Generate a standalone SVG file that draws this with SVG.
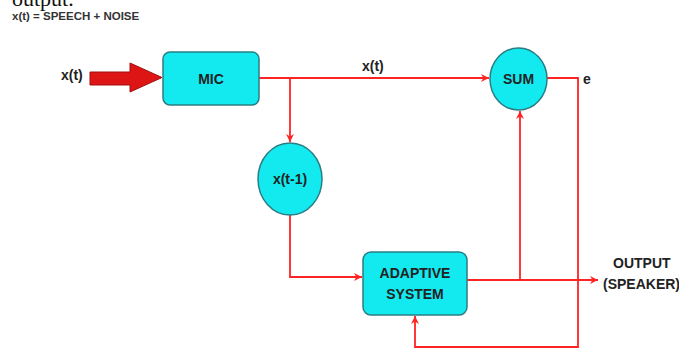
<svg xmlns="http://www.w3.org/2000/svg" width="679" height="349" viewBox="0 0 679 349">
<defs>
<style>
.lbl{font-family:"Liberation Sans",Arial,sans-serif;font-weight:bold;font-size:14px;fill:#222}
.node{fill:#12eaf0;stroke:#2a7d84;stroke-width:1.5}
.wire{fill:none;stroke:#ff2424;stroke-width:1.8}
</style>
<marker id="ah" viewBox="0 0 10 10" refX="10" refY="5" markerWidth="8" markerHeight="8" orient="auto" markerUnits="userSpaceOnUse">
<path d="M0,0 L10,5 L0,10 L3,5 Z" fill="#ff2424"/>
</marker>
</defs>
<rect width="679" height="349" fill="#fff"/>
<text x="12" y="6" font-family="Liberation Serif,serif" font-size="22" fill="#111">output.</text>
<text x="12" y="20" font-family="Liberation Sans,Arial,sans-serif" font-weight="bold" font-size="11.5" fill="#333">x(t) = SPEECH + NOISE</text>
<g id="connectors">
<path class="wire" d="M259,78 H489" marker-end="url(#ah)"/>
<path class="wire" d="M290,78 V142" marker-end="url(#ah)"/>
<path class="wire" d="M290,215 V277 H362" marker-end="url(#ah)"/>
<path class="wire" d="M467,280 H598" marker-end="url(#ah)"/>
<path class="wire" d="M520,280 V111" marker-end="url(#ah)"/>
<path class="wire" d="M547,78 H578 V347 H415 V316" marker-end="url(#ah)"/>
<path d="M90,72 H130 V63 L162,77.5 L130,92 V85 H90 Z" fill="#dd1515" stroke="#a01010" stroke-width="1"/>
<text class="lbl" x="362" y="71">x(t)</text>
<text class="lbl" x="61" y="80">x(t)</text>
<text class="lbl" x="583" y="84" font-size="16">e</text>
<text class="lbl" x="613" y="268">OUTPUT</text>
<text class="lbl" x="603" y="289" font-size="12.5">(SPEAKER)</text>
</g>
<g id="mic">
<rect class="node" x="163" y="52" width="96" height="53" rx="7"/>
<text class="lbl" x="211" y="84" text-anchor="middle">MIC</text>
</g>
<g id="sum">
<ellipse class="node" cx="518.5" cy="79" rx="28.5" ry="31"/>
<text class="lbl" x="518.5" y="84" text-anchor="middle">SUM</text>
</g>
<g id="delay">
<ellipse class="node" cx="290" cy="179" rx="32" ry="36"/>
<text class="lbl" x="290" y="184" text-anchor="middle">x(t-1)</text>
</g>
<g id="adaptive">
<rect class="node" x="363" y="252" width="104" height="63" rx="8"/>
<text class="lbl" x="415" y="278" text-anchor="middle">ADAPTIVE</text>
<text class="lbl" x="415" y="299" text-anchor="middle">SYSTEM</text>
</g>
</svg>
